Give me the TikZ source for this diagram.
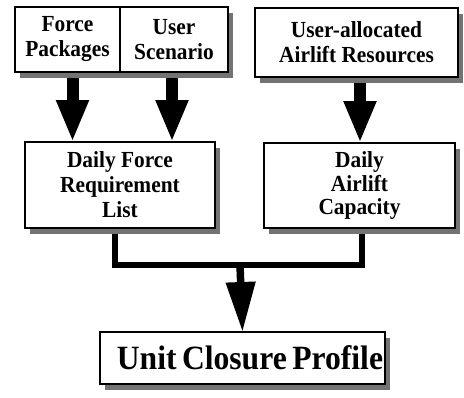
\documentclass[tikz,border=0pt]{standalone}
\usepackage{fontspec}
\setmainfont{Liberation Serif}
\newfontfamily\boxfont{Liberation Serif}[FakeStretch=0.93]
\usetikzlibrary{positioning,shadows,backgrounds,arrows.meta}
\newcommand{\fatArrow}[3]{\draw[fat] ([xshift=#3]#1.south) -- ([xshift=#3]#1.south |- #2.north);}

\begin{document}
\begin{tikzpicture}[x=1pt, y=-1pt, node distance=70pt,
	box/.style={draw, line width=1.2pt, fill=white, inner sep=0pt, outer sep=0pt,
		align=center, font=\boxfont\fontsize{23}{25}\selectfont\bfseries,
		drop shadow={shadow xshift=5pt, shadow yshift=-6pt, fill=black!55, opacity=1}},
	fat/.style={line width=12pt, -{Triangle[width=30pt,length=42pt]}},
	bus/.style={line width=6pt}]
	\useasboundingbox (0,0) rectangle (464,397);
	% inputs
	\node[box, minimum width=105pt, minimum height=65pt] (force) at (67.5,39.5) {Force\\Packages};
	\node[box, minimum width=108pt, minimum height=65pt, right=0pt of force] (scen) {User\\Scenario};
	\node[box, minimum width=203pt, minimum height=69pt] (res) at (356.5,42.5) {User-allocated\\Airlift Resources};
	% intermediate lists
	\node[box, minimum width=190pt, minimum height=86pt, below=70pt of force.south east] (req) {Daily Force\\Requirement\\List};
	\node[box, minimum width=191pt, minimum height=85pt, below=66pt of res, xshift=3pt,
		font=\boxfont\fontsize{23}{23.5}\selectfont\bfseries] (cap) {Daily\\Airlift\\Capacity};
	% result
	\node[box, minimum height=52pt, text width=281pt, align=right, inner xsep=2pt,
		font=\boxfont\fontsize{34}{38}\selectfont\bfseries] (prof) at (242.5,358) {\spaceskip=0.16em\relax Unit Closure Profile};
	\coordinate (join) at (240,265);
	\begin{scope}[on background layer]
		\fatArrow{force}{req}{5pt} \fatArrow{scen}{req}{-2pt} \fatArrow{res}{cap}{3.5pt}
		\draw[bus] ([xshift=-5pt]req.south) |- (join) -| ([xshift=2.5pt]cap.south);
		\draw[fat, line width=7.5pt, -{Triangle[width=28pt,length=50pt]}] (join) -- (prof.north);
	\end{scope}
\end{tikzpicture}
\end{document}
